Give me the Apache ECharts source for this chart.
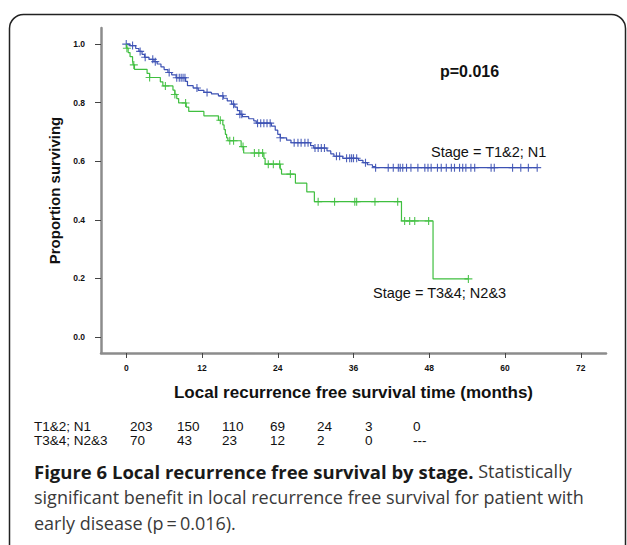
<!DOCTYPE html>
<html>
<head>
<meta charset="utf-8">
<script src="https://cdn.jsdelivr.net/npm/echarts@6/dist/echarts.min.js"></script>
<style>
  html, body { margin: 0; padding: 0; background: #fff; }
  #km-chart { width: 627px; height: 545px; }
</style>
</head>
<body>
<div id="km-chart"></div>
<script>
// Stage = T1&2; N1  (event times in months, survival after each drop)
var earlyTimes = [0, 0.6, 1.5, 2.0, 2.5, 2.9, 3.6, 4.4, 4.9, 5.5, 6.0, 6.6, 7.2, 7.9, 9.4, 9.7, 10.6, 11.4, 12.3, 13.5,
  14.6, 15.4, 16.0, 16.7, 17.2, 17.6, 18.0, 18.4, 19.4, 20.2, 20.6, 23.0, 23.6, 24.0, 24.4, 25.4, 26.1, 29.2, 29.7,
  31.8, 32.4, 32.9, 34.3, 36.8, 37.5, 38.2, 39.0, 39.5]
var earlySurv = [1.0, 0.995, 0.985, 0.975, 0.965, 0.955, 0.948, 0.940, 0.932, 0.922, 0.913, 0.903, 0.895, 0.885, 0.873,
  0.858, 0.850, 0.842, 0.835, 0.830, 0.823, 0.815, 0.806, 0.795, 0.785, 0.773, 0.760, 0.752, 0.745, 0.738, 0.730,
  0.720, 0.706, 0.692, 0.680, 0.672, 0.663, 0.653, 0.645, 0.635, 0.625, 0.617, 0.610, 0.603, 0.595, 0.588, 0.582, 0.578]
var earlyCensor = [0, 1.0, 2.2, 3.0, 4.2, 4.6, 6.8, 8.0, 8.4, 8.7, 9.0, 9.3, 11.2, 12.8, 15.3, 17.0, 18.0, 18.3, 20.8,
  21.3, 21.8, 22.3, 22.8, 24.4, 26.6, 27.2, 27.7, 28.3, 28.8, 29.9, 30.4, 30.9, 31.4, 33.3, 33.8, 34.9, 35.4, 35.7,
  36.0, 36.5, 37.9, 39.5, 41.5, 42.3, 43.1, 43.4, 43.8, 44.4, 45.1, 46.2, 47.3, 47.8, 48.3, 49.3, 49.9, 50.7, 51.5,
  52.0, 52.8, 53.3, 53.8, 54.6, 55.2, 57.8, 58.3, 61.2, 62.5, 63.7, 65.1]

// Stage = T3&4; N2&3
var lateTimes = [0, 0.1, 0.3, 0.6, 1.0, 1.1, 1.3, 3.3, 3.7, 5.4, 5.8, 7.4, 7.7, 8.0, 8.3, 9.5, 9.9, 12.3, 14.6, 15.3,
  15.5, 15.7, 15.9, 16.1, 18.2, 18.6, 21.8, 22.0, 24.4, 24.6, 26.8, 28.6, 29.8, 43.6, 48.6]
var lateSurv = [1.0, 0.986, 0.971, 0.957, 0.943, 0.929, 0.914, 0.900, 0.886, 0.871, 0.857, 0.843, 0.828, 0.814, 0.799,
  0.785, 0.770, 0.755, 0.740, 0.724, 0.708, 0.692, 0.680, 0.670, 0.650, 0.628, 0.610, 0.590, 0.573, 0.556, 0.525,
  0.495, 0.462, 0.396, 0.198]
var lateCensor = [0.1, 1.2, 3.7, 6.2, 7.7, 9.4, 14.9, 16.4, 17.0, 18.5, 20.3, 21.0, 21.6, 22.5, 23.3, 24.3, 26.0, 30.4,
  33.0, 36.2, 36.5, 39.4, 43.0, 44.1, 44.9, 45.7, 47.9, 54.2]

var xTicks = [0, 12, 24, 36, 48, 60, 72]
var yTicks = [0, 0.2, 0.4, 0.6, 0.8, 1.0]

// numbers at risk
var riskRowLabels = ['T1&2; N1', 'T3&4; N2&3']
var riskEarly = ['203', '150', '110', '69', '24', '3', '0']
var riskLate = ['70', '43', '23', '12', '2', '0', '---']

var blue = '#3d52b4'
var green = '#3fbf3f'
var txtFont = 'Liberation Sans, Arial, sans-serif'
var capFont = '"Open Sans", sans-serif'
var crossPath = 'path://M0,4.3H10V5.7H0Z M4.3,0H5.7V10H4.3Z'

function stepLine(times, surv, end) {
  var pts = []
  for (var i = 0; i < times.length; i++) pts.push([times[i], surv[i]])
  pts.push([end, surv[surv.length - 1]])
  return pts
}

function levelAt(times, surv, t) {
  var s = surv[0]
  for (var i = 0; i < times.length; i++) {
    if (times[i] <= t) s = surv[i]
  }
  return s
}

function censorPts(times, surv, cens) {
  return cens.map(function (c) { return [c, levelAt(times, surv, c)] })
}

var chart = echarts.init(document.getElementById('km-chart'), null, { renderer: 'svg' })

var riskX = [130, 177, 222, 270, 317, 365, 413]
var graphics = [
  {
    type: 'rect',
    shape: { x: 9.5, y: 14.5, width: 616, height: 600, r: 14 },
    style: { fill: 'none', stroke: '#222', lineWidth: 1.5 },
    silent: true
  },
  {
    type: 'text', left: 440, top: 63,
    style: { text: 'p=0.016', font: 'bold 16px ' + txtFont, fill: '#111' }
  },
  {
    type: 'text', left: 431, top: 144,
    style: { text: 'Stage = T1&2; N1', font: '14.5px ' + txtFont, fill: '#111' }
  },
  {
    type: 'text', left: 373, top: 285,
    style: { text: 'Stage = T3&4; N2&3', font: '14.5px ' + txtFont, fill: '#111' }
  },
  {
    type: 'text', left: 34, top: 458,
    style: {
      text: '{b|Figure 6 Local recurrence free survival by stage.}{r| Statistically}\n' +
        '{r|significant benefit in local recurrence free survival for patient with}\n' +
        '{r|early disease (p\u2009=\u20090.016).}',
      lineHeight: 26,
      rich: {
        b: { font: 'bold 18.5px ' + capFont, fill: '#1a1a1a', lineHeight: 26 },
        r: { font: '18px ' + capFont, fill: '#3a3a3a', lineHeight: 26 }
      }
    }
  }
]

var riskRows = [riskEarly, riskLate]
riskRows.forEach(function (row, r) {
  var y = 419 + r * 14
  graphics.push({
    type: 'text', left: 34, top: y,
    style: { text: riskRowLabels[r], font: '13.5px ' + txtFont, fill: '#111' }
  })
  row.forEach(function (v, i) {
    graphics.push({
      type: 'text', left: riskX[i], top: y,
      style: { text: v, font: '13.5px ' + txtFont, fill: '#111' }
    })
  })
})

chart.setOption({
  animation: false,
  backgroundColor: '#fff',
  grid: { left: 101, top: 28, width: 505, height: 325, containLabel: false },
  xAxis: {
    type: 'value',
    min: -4,
    max: 76,
    name: 'Local recurrence free survival time (months)',
    nameLocation: 'middle',
    nameGap: 31,
    nameTextStyle: { fontFamily: txtFont, fontWeight: 'bold', fontSize: 17, color: '#111' },
    axisLine: { show: true, onZero: false, lineStyle: { color: '#8c8c8c', width: 2.5 } },
    axisTick: { show: true, length: 5, customValues: xTicks, lineStyle: { color: '#444', width: 1 } },
    axisLabel: {
      customValues: xTicks, margin: 10,
      fontFamily: txtFont, fontWeight: 'bold', fontSize: 8.5, color: '#111'
    },
    splitLine: { show: false }
  },
  yAxis: {
    type: 'value',
    min: -0.055,
    max: 1.055,
    name: 'Proportion surviving',
    nameLocation: 'middle',
    nameGap: 30,
    nameTextStyle: { fontFamily: txtFont, fontWeight: 'bold', fontSize: 15, color: '#111' },
    axisLine: { show: true, onZero: false, lineStyle: { color: '#8c8c8c', width: 2.5 } },
    axisTick: { show: true, length: 6, customValues: yTicks, lineStyle: { color: '#444', width: 1 } },
    axisLabel: {
      customValues: yTicks, margin: 16,
      formatter: function (v) { return v.toFixed(1) },
      fontFamily: txtFont, fontWeight: 'bold', fontSize: 8.5, color: '#111'
    },
    splitLine: { show: false }
  },
  series: [
    {
      type: 'line', step: 'end', symbol: 'none',
      data: stepLine(earlyTimes, earlySurv, earlyCensor[earlyCensor.length - 1]),
      lineStyle: { color: blue, width: 1.2 }
    },
    {
      type: 'line', step: 'end', symbol: 'none',
      data: stepLine(lateTimes, lateSurv, lateCensor[lateCensor.length - 1]),
      lineStyle: { color: green, width: 1.2 }
    },
    {
      type: 'scatter', symbol: crossPath, symbolSize: 8,
      data: censorPts(earlyTimes, earlySurv, earlyCensor),
      itemStyle: { color: blue, opacity: 0.9 }
    },
    {
      type: 'scatter', symbol: crossPath, symbolSize: 8,
      data: censorPts(lateTimes, lateSurv, lateCensor),
      itemStyle: { color: green, opacity: 0.9 }
    }
  ],
  graphic: graphics
})
</script>
</body>
</html>
